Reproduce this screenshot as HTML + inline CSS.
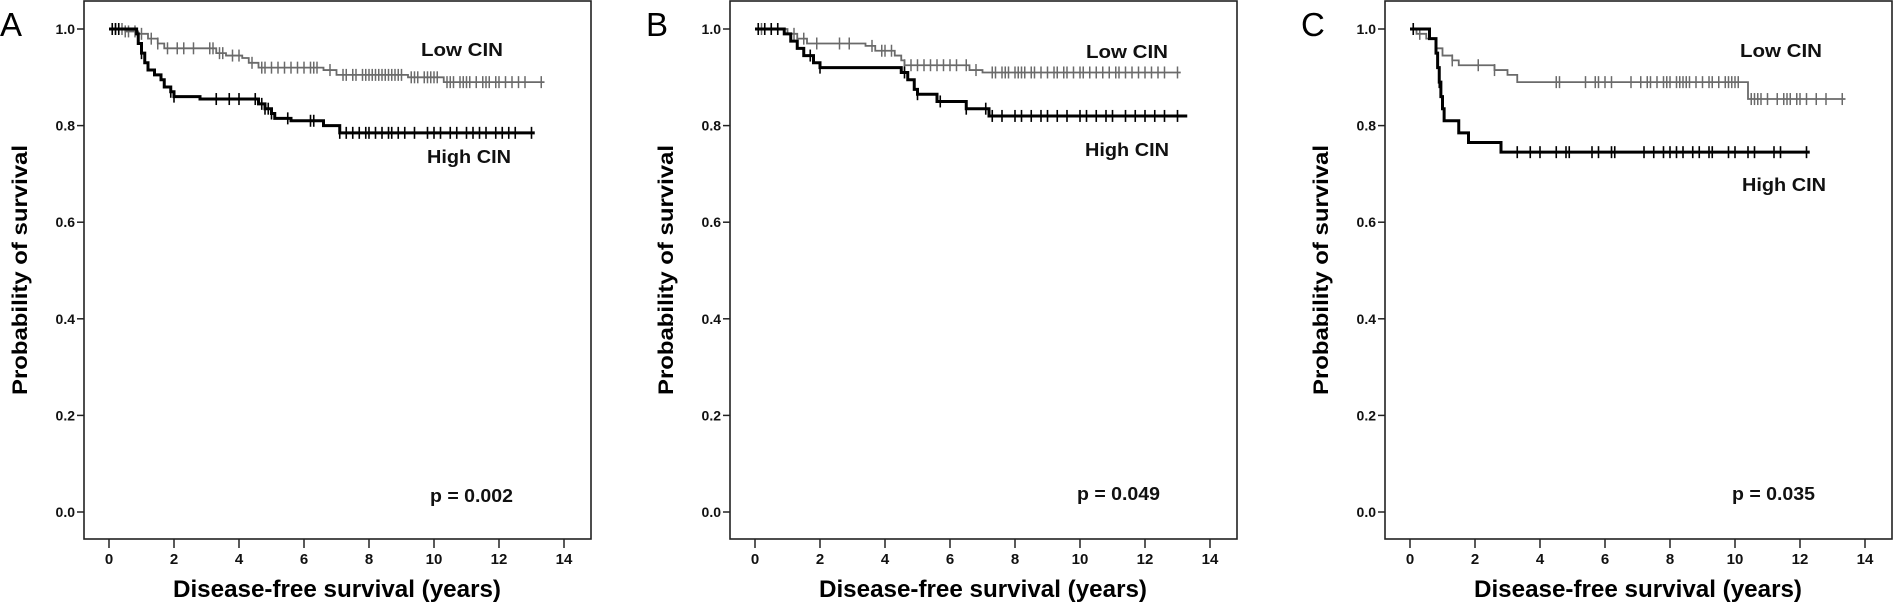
<!DOCTYPE html>
<html><head><meta charset="utf-8"><style>
html,body{margin:0;padding:0;background:#fff;}
svg{display:block;font-family:"Liberation Sans",Arial,sans-serif;}
</style></head><body>
<svg id="s" width="1895" height="607" viewBox="0 0 1895 607" xmlns="http://www.w3.org/2000/svg"></svg>
<script>
const S=document.getElementById('s');const NS='http://www.w3.org/2000/svg';
function el(t,a,txt){const e=document.createElementNS(NS,t);for(const k in a)e.setAttribute(k,a[k]);if(txt!=null)e.textContent=txt;S.appendChild(e);return e;}
const Y=v=>512-v*483;
const panels=[
 {L:84,letter:'A',lx:0,p:'p = 0.002',px:430,py:502,low:[421,56],high:[427,163],
  lowS:[[0,1],[0.5,.995],[0.9,.99],[1.2,.98],[1.5,.97],[1.7,.96],[3.3,.95],[3.6,.945],[4.1,.94],[4.3,.93],[4.6,.92],[6.6,.915],[7.0,.905],[9.2,.90],[10.3,.89]],lowE:13.4,
  highS:[[0,1],[0.85,.99],[0.9,.97],[1.0,.95],[1.1,.93],[1.2,.915],[1.4,.905],[1.6,.895],[1.7,.88],[1.9,.87],[2.0,.86],[2.8,.855],[4.6,.845],[4.8,.835],[5.0,.825],[5.1,.815],[5.6,.81],[6.6,.80],[7.1,.785]],highE:13.1,
  lowC:[0.1,0.2,0.3,0.4,0.5,0.6,0.8,1.0,1.3,1.5,1.8,2.1,2.3,2.6,3.1,3.2,3.4,3.5,3.8,4.0,4.4,4.7,4.8,5.0,5.2,5.4,5.6,5.8,6.0,6.2,6.3,6.4,6.8,7.2,7.3,7.5,7.6,7.8,7.9,8.0,8.1,8.2,8.3,8.4,8.5,8.6,8.7,8.8,8.9,9.0,9.3,9.4,9.5,9.7,9.8,9.9,10.0,10.1,10.4,10.5,10.6,10.8,10.9,11.0,11.1,11.3,11.5,11.6,11.7,11.9,12.0,12.2,12.4,12.6,12.8,13.3],
  highC:[0.1,0.2,0.3,1.0,1.9,2.0,3.3,3.7,4.0,4.5,4.7,4.8,4.9,5.0,5.5,6.2,6.3,7.1,7.3,7.5,7.7,7.9,8.0,8.2,8.4,8.6,8.7,8.9,9.1,9.4,9.8,10.0,10.2,10.5,10.7,11.0,11.2,11.4,11.6,11.9,12.1,12.3,12.5,13.0]},
 {L:730,letter:'B',lx:646,p:'p = 0.049',px:1077,py:500,low:[1086,58],high:[1085,156],
  lowS:[[0,1],[1.0,.99],[1.3,.98],[1.6,.97],[3.4,.965],[3.7,.955],[4.3,.945],[4.5,.935],[4.6,.925],[6.6,.915],[7.0,.91]],lowE:13.1,
  highS:[[0,1],[0.9,.99],[1.1,.975],[1.3,.96],[1.5,.945],[1.8,.93],[2.0,.92],[4.5,.91],[4.7,.895],[4.9,.875],[5.0,.865],[5.6,.85],[6.5,.835],[7.2,.82]],highE:13.3,
  lowC:[0.1,0.2,0.3,0.5,0.7,1.2,1.5,1.9,2.6,2.9,3.6,3.9,4.0,4.2,4.6,4.8,5.0,5.2,5.4,5.6,5.8,6.0,6.2,6.5,6.8,7.3,7.4,7.6,7.7,7.8,8.0,8.1,8.2,8.3,8.5,8.6,8.8,9.0,9.2,9.3,9.5,9.6,9.8,10.0,10.1,10.3,10.5,10.7,10.9,11.1,11.2,11.4,11.6,11.8,12.0,12.2,12.4,12.6,13.0],
  highC:[0.1,0.3,0.5,0.7,1.7,2.0,4.6,5.0,5.7,6.5,7.1,7.3,7.6,8.0,8.2,8.5,8.8,9.0,9.3,9.6,10.0,10.2,10.5,10.8,11.0,11.4,11.7,12.0,12.3,12.6,13.0]},
 {L:1385,letter:'C',lx:1301,p:'p = 0.035',px:1732,py:500,low:[1740,57],high:[1742,191],
  lowS:[[0,1],[0.2,.99],[0.5,.98],[0.8,.96],[1.0,.945],[1.3,.935],[1.5,.925],[2.6,.915],[3.0,.905],[3.3,.89],[10.4,.855]],lowE:13.4,
  highS:[[0,1],[0.6,.98],[0.8,.95],[0.85,.92],[0.9,.89],[0.95,.86],[1.0,.835],[1.05,.81],[1.5,.785],[1.8,.765],[2.8,.745]],highE:12.3,
  lowC:[0.1,0.3,1.3,2.1,2.6,4.5,4.6,5.4,5.7,5.8,6.0,6.2,6.8,7.1,7.3,7.4,7.6,7.8,7.9,8.0,8.2,8.3,8.4,8.5,8.6,8.8,9.0,9.2,9.3,9.5,9.7,9.8,9.9,10.0,10.1,10.5,10.6,10.7,10.8,11.0,11.3,11.5,11.6,11.7,11.9,12.0,12.2,12.5,12.8,13.3],
  highC:[0.1,0.9,3.3,3.7,4.0,4.5,4.8,4.9,5.6,5.8,6.2,6.3,7.2,7.5,7.8,8.0,8.2,8.4,8.7,8.9,9.2,9.3,9.8,10.0,10.4,10.6,11.2,11.4,12.2]}
];
function stepPath(x0,st,end){let d='M'+(x0+st[0][0]*32.5)+' '+Y(st[0][1]);let v=st[0][1];
 for(let i=1;i<st.length;i++){const x=x0+st[i][0]*32.5;d+=' H'+x+' V'+Y(st[i][1]);v=st[i][1];}
 d+=' H'+(x0+end*32.5);return d;}
function valAt(st,t){let v=st[0][1];for(const s of st){if(s[0]<=t)v=s[1];}return v;}
for(const P of panels){
 const L=P.L,R=L+507,T=1,B=539,x0=L+25;
 el('rect',{x:L,y:T,width:507,height:B-T,fill:'none',stroke:'#222','stroke-width':1.6});
 el('text',{x:P.lx,y:36,'font-size':33,fill:'#000'},P.letter);
 for(let i=0;i<=5;i++){const v=i*0.2,y=Y(v);
  el('line',{x1:L-7,y1:y,x2:L,y2:y,stroke:'#222','stroke-width':1.5});
  el('text',{x:L-9,y:y+5,'font-size':14,'font-weight':'bold','text-anchor':'end',fill:'#111'},v.toFixed(1));}
 for(let t=0;t<=14;t+=2){const x=x0+t*32.5;
  el('line',{x1:x,y1:B,x2:x,y2:B+9,stroke:'#222','stroke-width':1.5});
  el('text',{x:x,y:564,'font-size':15,'font-weight':'bold','text-anchor':'middle',fill:'#111'},String(t));}
 el('text',{x:L+253,y:597,'font-size':24,'font-weight':'bold','text-anchor':'middle',textLength:328,lengthAdjust:'spacingAndGlyphs',fill:'#000'},'Disease-free survival (years)');
 const cx=L-57,cy=270;
 el('text',{x:cx,y:cy,'font-size':21,'font-weight':'bold','text-anchor':'middle',transform:`rotate(-90 ${cx} ${cy})`,textLength:250,lengthAdjust:'spacingAndGlyphs',fill:'#000'},'Probability of survival');
 el('text',{x:P.low[0],y:P.low[1],'font-size':18,'font-weight':'bold',textLength:82,lengthAdjust:'spacingAndGlyphs',fill:'#111'},'Low CIN');
 el('text',{x:P.high[0],y:P.high[1],'font-size':18,'font-weight':'bold',textLength:84,lengthAdjust:'spacingAndGlyphs',fill:'#111'},'High CIN');
 el('text',{x:P.px,y:P.py,'font-size':18,'font-weight':'bold',textLength:83,lengthAdjust:'spacingAndGlyphs',fill:'#111'},P.p);
 el('path',{d:stepPath(x0,P.lowS,P.lowE),fill:'none',stroke:'#6a6a6a','stroke-width':1.8});
 for(const t of P.lowC){const x=x0+t*32.5,y=Y(valAt(P.lowS,t));el('line',{x1:x,y1:y-6,x2:x,y2:y+6,stroke:'#6a6a6a','stroke-width':1.5});}
 el('path',{d:stepPath(x0,P.highS,P.highE),fill:'none',stroke:'#000','stroke-width':3});
 for(const t of P.highC){const x=x0+t*32.5,y=Y(valAt(P.highS,t));el('line',{x1:x,y1:y-6,x2:x,y2:y+6,stroke:'#000','stroke-width':1.6});}
}
</script>
</body></html>
